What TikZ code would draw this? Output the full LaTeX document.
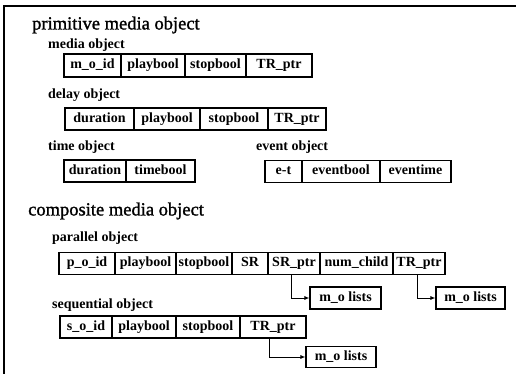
\documentclass[tikz,border=0pt]{standalone}
\usepackage{fontspec}
\setmainfont{Liberation Serif}
\newfontfamily\ttlfont[FakeBold=1.3]{Liberation Serif}
\usetikzlibrary{arrows.meta}
\begin{document}
\begin{tikzpicture}[x=1pt,y=-1pt,
  cell/.style={draw, line width=1.1pt, inner sep=0pt, anchor=center,
    font=\fontsize{14}{16}\selectfont\bfseries, text height=9.5pt, text depth=3pt},
  ttl/.style={anchor=west, inner sep=0pt, font=\ttlfont\fontsize{18.5}{21}\selectfont},
  sub/.style={anchor=west, inner sep=0pt, font=\fontsize{14}{16}\selectfont\bfseries},
  ptr/.style={line width=0.9pt, -{Latex[length=5pt,width=4pt]}}
]
\useasboundingbox (0,0) rectangle (516,374);
\draw[line width=1.5pt] (516,6) -- (4,6) -- (4,374);

% titles
\node[ttl] (tprim) at (32,25) {primitive media object};
\node[ttl] (tcomp) at (28,211) {composite media object};
\node[sub] (lmedia) at (48,45) {media object};
\node[sub] (ldelay) at (48,95) {delay object};
\node[sub] (ltime) at (48,147) {time object};
\node[sub] (levent) at (256,147) {event object};
\node[sub] (lpar) at (52,238) {parallel object};
\node[sub] (lseq) at (52,305) {sequential object};

% media object
\node[cell, minimum width=57, minimum height=23] (m1) at (92.5,65.5) {m\_o\_id};
\node[cell, minimum width=64, minimum height=23] (m2) at (153,65.5) {playbool};
\node[cell, minimum width=61, minimum height=23] (m3) at (215.5,65.5) {stopbool};
\node[cell, minimum width=66, minimum height=23] (m4) at (279,65.5) {TR\_ptr};

% delay object
\node[cell, minimum width=69, minimum height=22] (d1) at (99.5,119) {duration};
\node[cell, minimum width=66, minimum height=22] (d2) at (167,119) {playbool};
\node[cell, minimum width=68, minimum height=22] (d3) at (234,119) {stopbool};
\node[cell, minimum width=58, minimum height=22] (d4) at (297,119) {TR\_ptr};

% time object
\node[cell, minimum width=62, minimum height=22] (t1) at (95,171) {duration};
\node[cell, minimum width=69, minimum height=22] (t2) at (160.5,171) {timebool};

% event object
\node[cell, minimum width=37, minimum height=22] (e1) at (283.5,171.5) {e-t};
\node[cell, minimum width=78, minimum height=22] (e2) at (341,171.5) {eventbool};
\node[cell, minimum width=71, minimum height=22] (e3) at (415.5,171.5) {eventime};

% parallel object
\node[cell, minimum width=56, minimum height=22] (p1) at (87,263.5) {p\_o\_id};
\node[cell, minimum width=61, minimum height=22] (p2) at (145.5,263.5) {playbool};
\node[cell, minimum width=56, minimum height=22] (p3) at (204,263.5) {stopbool};
\node[cell, minimum width=36, minimum height=22] (p4) at (250,263.5) {SR};
\node[cell, minimum width=52, minimum height=22] (p5) at (294,263.5) {SR\_ptr};
\node[cell, minimum width=73, minimum height=22] (p6) at (356.5,263.5) {num\_child};
\node[cell, minimum width=52, minimum height=22] (p7) at (419,263.5) {TR\_ptr};

\node[cell, minimum width=71, minimum height=22] (L1) at (345.5,298) {m\_o lists};
\node[cell, minimum width=69, minimum height=22] (L2) at (470.5,298) {m\_o lists};

% sequential object
\node[cell, minimum width=52, minimum height=22] (s1) at (86,327) {s\_o\_id};
\node[cell, minimum width=64, minimum height=22] (s2) at (144,327) {playbool};
\node[cell, minimum width=64, minimum height=22] (s3) at (208,327) {stopbool};
\node[cell, minimum width=66, minimum height=22] (s4) at (273,327) {TR\_ptr};

\node[cell, minimum width=70, minimum height=21] (L3) at (341,357) {m\_o lists};

% pointers
\draw[ptr] ([xshift=-3pt]p5.south) |- (L1.west);
\draw[ptr] ([xshift=-2pt]p7.south) |- (L2.west);
\draw[ptr] ([xshift=-4pt]s4.south) |- (L3.west);
\end{tikzpicture}
\end{document}
